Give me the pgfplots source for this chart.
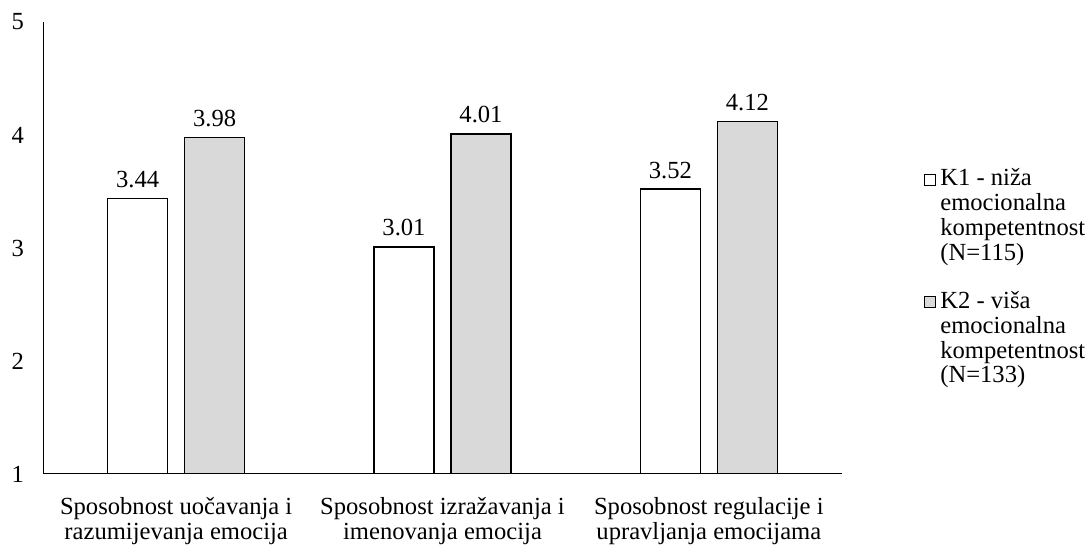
\documentclass[border=0pt]{standalone}
\usepackage{fontspec}
\setmainfont{Liberation Serif}
\usepackage{pgfplots}
\pgfplotsset{compat=1.18}
\definecolor{kgray}{HTML}{D9D9D9}
\newcommand{\cf}{\fontsize{12.3}{12.4}\selectfont}
\begin{document}
\begin{tikzpicture}
\path[use as bounding box] (-21.5pt,-35.5pt) rectangle (521.5pt,237pt);
\begin{axis}[
 at={(0,0)}, anchor=south west,
 scale only axis, width=399.5pt, height=226pt,
 ybar=8.5pt, bar width=30pt,
 xmin=-0.5, xmax=2.5, ymin=1, ymax=5,
 xtick={0,1,2},
 xticklabels={{Sposobnost uočavanja i\\razumijevanja emocija},{Sposobnost izražavanja i\\imenovanja emocija},{Sposobnost regulacije i\\upravljanja emocijama}},
 ytick={1,2,3,4,5},
 axis lines*=left,
 axis line style={line width=0.5pt, black},
 major tick length=0pt,
 tick label style={font=\cf},
 /pgf/number format/assume math mode=true,
 xticklabel style={align=center, yshift=-8pt, font=\fontsize{12.3}{12.8}\selectfont},
 yticklabel style={xshift=-6pt},
 nodes near coords={\pgfmathprintnumber[fixed,fixed zerofill,precision=2,assume math mode=true]{\pgfplotspointmeta}},
 every node near coord/.append style={font=\cf, text=black, inner sep=0pt, yshift=5pt, anchor=south},
 legend style={draw=none, at={(1.1026,0.684)}, anchor=north west, font=\cf, cells={align=left, anchor=base west}, row sep=10pt, inner sep=0pt, outer sep=0pt},
 legend image code/.code={\path (0pt,0pt); \draw[#1, line width=0.6pt] (0pt,37.5pt) rectangle (5.5pt,43pt);},
]
\addplot[draw=black, fill=white, line width=0.75pt] coordinates {(0,3.44) (1,3.01) (2,3.52)};
\addlegendentry{K1 - niža\\emocionalna\\kompetentnost\\(N=115)}
\addplot[draw=black, fill=kgray, line width=0.75pt] coordinates {(0,3.98) (1,4.01) (2,4.12)};
\addlegendentry{K2 - viša\\emocionalna\\kompetentnost\\(N=133)}
\end{axis}
\end{tikzpicture}
\end{document}
